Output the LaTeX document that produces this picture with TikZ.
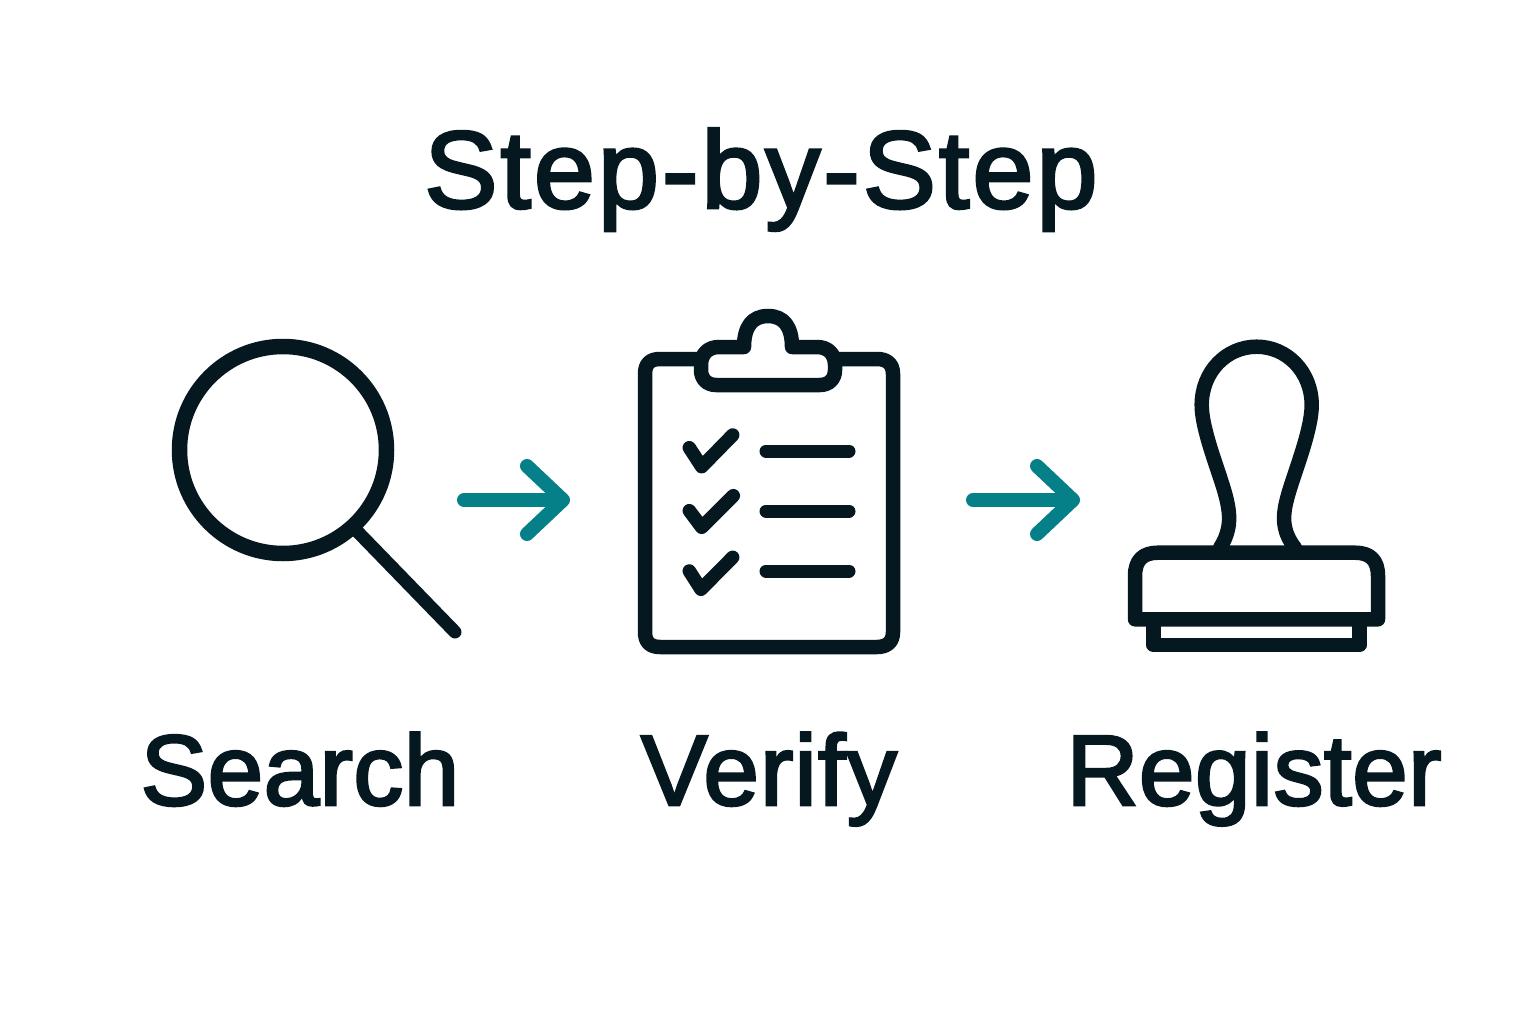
\documentclass[tikz,border=0pt]{standalone}
\usepackage{fontspec}
\setmainfont{Liberation Sans}
\newfontfamily\headfont[FakeBold=2.6,LetterSpace=2.6]{Liberation Sans}
\newfontfamily\labelfont[FakeBold=2.6,LetterSpace=0.4]{Liberation Sans}
\newfontfamily\verifyfont[FakeBold=2.6,LetterSpace=1.2]{Liberation Sans}
\usetikzlibrary{arrows.meta}
\definecolor{ink}{HTML}{06181F}
\definecolor{teal1}{HTML}{057F88}
\tikzset{
  x=1pt,y=-1pt,
  icon/.style={draw=ink,line width=14.5pt,line join=round,line cap=round},
  thin icon/.style={icon,line width=13pt},
  check/.style={icon,line width=13.5pt},
  flow/.style={draw=teal1,line width=14pt,line cap=round,-{Straight Barb[length=36pt,width=68pt,round,line width=14pt]}},
  label/.style={anchor=base,text=ink,inner sep=0pt,font=\labelfont\fontsize{100}{120}\selectfont},
  heading/.style={anchor=base,text=ink,inner sep=0pt,font=\headfont\fontsize{110}{130}\selectfont},
}
\begin{document}
\begin{tikzpicture}
\useasboundingbox[fill=white] (0,0) rectangle (1536,1024);
\node[heading] (title) at (761,208) {Step-by-Step};
\node[label] (search) at (300,805) {Search};
\node[label,font=\verifyfont\fontsize{100}{120}\selectfont] (verify) at (769,805) {Verify};
\node[label] (register) at (1254,805) {Register};
% magnifier
\draw[icon,line width=15.5pt] (283,450) circle (103.5);
\draw[thin icon] (354,528) -- (455,632);
% clipboard
\draw[icon] (701,359) -- (660,359) .. controls (650,359) and (645,364) .. (645,374)
  -- (645,632) .. controls (645,642) and (650,647) .. (660,647)
  -- (877,647) .. controls (887,647) and (893,642) .. (893,632)
  -- (893,374) .. controls (893,364) and (887,359) .. (877,359) -- (835,359);
\draw[icon,fill=white] (744,347) .. controls (744,327) and (752,316) .. (768,316)
  .. controls (784,316) and (792,327) .. (792,347)
  -- (817,347) .. controls (828,347) and (835,354) .. (835,365)
  -- (835,370) .. controls (835,379) and (829,385) .. (820,385)
  -- (716,385) .. controls (707,385) and (701,379) .. (701,370)
  -- (701,365) .. controls (701,354) and (708,347) .. (719,347) -- cycle;
\draw[check] (689.3,447.7) -- (701.7,466.7) -- (732.7,435);
\draw[check] (689.3,510.7) -- (701.7,527.3) -- (733.3,495.7);
\draw[check] (689.3,571) -- (701,589.3) -- (732.7,557.3);
\draw[thin icon] (766,451) -- (849,451);
\draw[thin icon] (766,511) -- (849,511);
\draw[thin icon] (766,571) -- (849,571);
% stamp
\draw[icon] (1220,548) .. controls (1228,535) and (1232,522) .. (1226.7,500)
  .. controls (1222,478) and (1201.7,432) .. (1201.7,405)
  .. controls (1201.7,372) and (1226,346.7) .. (1256.7,346.7)
  .. controls (1287,346.7) and (1311.7,372) .. (1311.7,405)
  .. controls (1311.7,432) and (1292,478) .. (1286.7,500)
  .. controls (1281,522) and (1285,535) .. (1295,548);
\draw[icon] (1135,619.3) -- (1135,576) .. controls (1135,560) and (1143,552.7) .. (1158,552.7)
  -- (1355,552.7) .. controls (1370,552.7) and (1378,560) .. (1378,576) -- (1378,619.3) -- cycle;
\draw[icon] (1153.5,619.3) -- (1153.5,645) -- (1359.5,645) -- (1359.5,619.3);
% arrows
\coordinate (a1) at (464,500); \coordinate (b1) at (570,500);
\coordinate (a2) at (973,500); \coordinate (b2) at (1080,500);
\draw[flow] (a1) -- (b1);
\draw[flow] (a2) -- (b2);
\end{tikzpicture}
\end{document}
